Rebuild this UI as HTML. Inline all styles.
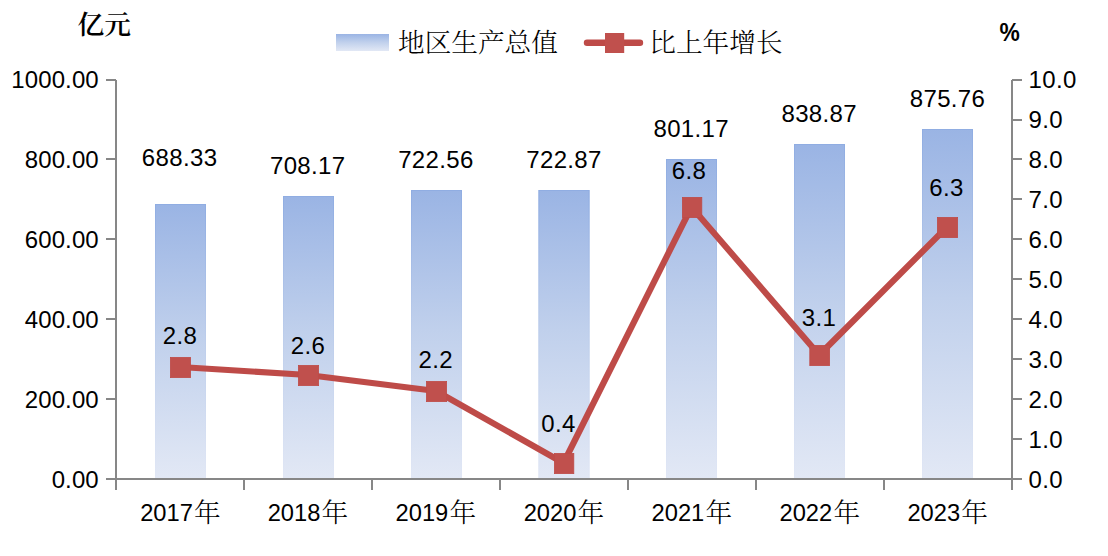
<!DOCTYPE html>
<html lang="zh-CN"><head><meta charset="utf-8"><title>地区生产总值</title>
<style>
html,body{margin:0;padding:0;background:#fff;}
body{width:1108px;height:556px;overflow:hidden;}
svg{display:block;}
.n{font-family:"Liberation Sans","Noto Sans CJK SC",sans-serif;font-size:24.0px;fill:#000;letter-spacing:0.35px;}
.c{font-family:"Liberation Serif","Noto Serif CJK SC",serif;font-size:26.67px;fill:#000;font-weight:300;letter-spacing:0;}
</style></head><body>
<svg width="1108" height="556" viewBox="0 0 1108 556">
<defs>
<linearGradient id="g" x1="0" y1="0" x2="0" y2="1"><stop offset="0" stop-color="#9ab4e4"/><stop offset="0.485" stop-color="#c0d0ec"/><stop offset="1" stop-color="#e2e8f5"/></linearGradient>
<linearGradient id="g2" x1="0" y1="0" x2="0" y2="1"><stop offset="0" stop-color="#90ade2"/><stop offset="0.485" stop-color="#bccdeb"/><stop offset="1" stop-color="#e1e7f5"/></linearGradient>
</defs>
<rect width="1108" height="556" fill="#fff"/>

<rect x="155.0" y="204" width="51" height="274" fill="url(#g)"/>
<rect x="155.5" y="204.5" width="50" height="274" fill="none" stroke="url(#g2)"/>
<rect x="283.0" y="196" width="51" height="282" fill="url(#g)"/>
<rect x="283.5" y="196.5" width="50" height="282" fill="none" stroke="url(#g2)"/>
<rect x="411.0" y="190" width="51" height="288" fill="url(#g)"/>
<rect x="411.5" y="190.5" width="50" height="288" fill="none" stroke="url(#g2)"/>
<rect x="538.5" y="190" width="51" height="288" fill="url(#g)"/>
<rect x="539.0" y="190.5" width="50" height="288" fill="none" stroke="url(#g2)"/>
<rect x="666.0" y="159" width="51" height="319" fill="url(#g)"/>
<rect x="666.5" y="159.5" width="50" height="319" fill="none" stroke="url(#g2)"/>
<rect x="794.0" y="144" width="51" height="334" fill="url(#g)"/>
<rect x="794.5" y="144.5" width="50" height="334" fill="none" stroke="url(#g2)"/>
<rect x="922.0" y="129" width="51" height="349" fill="url(#g)"/>
<rect x="922.5" y="129.5" width="50" height="349" fill="none" stroke="url(#g2)"/>
<rect x="115" y="80" width="2" height="410" fill="#878787"/>
<rect x="1011" y="80" width="2" height="410" fill="#878787"/>
<rect x="115" y="478" width="898" height="2" fill="#878787"/>
<rect x="106" y="79" width="10" height="2" fill="#878787"/>
<rect x="106" y="158" width="10" height="2" fill="#878787"/>
<rect x="106" y="238" width="10" height="2" fill="#878787"/>
<rect x="106" y="318" width="10" height="2" fill="#878787"/>
<rect x="106" y="398" width="10" height="2" fill="#878787"/>
<rect x="106" y="478" width="10" height="2" fill="#878787"/>
<rect x="1012" y="79" width="10" height="2" fill="#878787"/>
<rect x="1012" y="119" width="10" height="2" fill="#878787"/>
<rect x="1012" y="158" width="10" height="2" fill="#878787"/>
<rect x="1012" y="198" width="10" height="2" fill="#878787"/>
<rect x="1012" y="238" width="10" height="2" fill="#878787"/>
<rect x="1012" y="278" width="10" height="2" fill="#878787"/>
<rect x="1012" y="318" width="10" height="2" fill="#878787"/>
<rect x="1012" y="358" width="10" height="2" fill="#878787"/>
<rect x="1012" y="398" width="10" height="2" fill="#878787"/>
<rect x="1012" y="438" width="10" height="2" fill="#878787"/>
<rect x="1012" y="478" width="10" height="2" fill="#878787"/>
<rect x="243" y="479" width="2" height="11" fill="#878787"/>
<rect x="371" y="479" width="2" height="11" fill="#878787"/>
<rect x="499" y="479" width="2" height="11" fill="#878787"/>
<rect x="627" y="479" width="2" height="11" fill="#878787"/>
<rect x="755" y="479" width="2" height="11" fill="#878787"/>
<rect x="883" y="479" width="2" height="11" fill="#878787"/>
<text class="n" x="98.8" y="88" text-anchor="end" style="letter-spacing:0.1px">1000.00</text>
<text class="n" x="98.8" y="168" text-anchor="end" style="letter-spacing:0.1px">800.00</text>
<text class="n" x="98.8" y="248" text-anchor="end" style="letter-spacing:0.1px">600.00</text>
<text class="n" x="98.8" y="328" text-anchor="end" style="letter-spacing:0.1px">400.00</text>
<text class="n" x="98.8" y="408" text-anchor="end" style="letter-spacing:0.1px">200.00</text>
<text class="n" x="98.8" y="488" text-anchor="end" style="letter-spacing:0.1px">0.00</text>
<text class="n" x="1028.5" y="88">10.0</text>
<text class="n" x="1028.5" y="128">9.0</text>
<text class="n" x="1028.5" y="168">8.0</text>
<text class="n" x="1028.5" y="208">7.0</text>
<text class="n" x="1028.5" y="248">6.0</text>
<text class="n" x="1028.5" y="288">5.0</text>
<text class="n" x="1028.5" y="328">4.0</text>
<text class="n" x="1028.5" y="368">3.0</text>
<text class="n" x="1028.5" y="408">2.0</text>
<text class="n" x="1028.5" y="448">1.0</text>
<text class="n" x="1028.5" y="488">0.0</text>
<text class="n" x="179.6" y="166.0" text-anchor="middle">688.33</text>
<text class="n" x="307.7" y="174.0" text-anchor="middle">708.17</text>
<text class="n" x="435.9" y="168.0" text-anchor="middle">722.56</text>
<text class="n" x="564.0" y="168.0" text-anchor="middle">722.87</text>
<text class="n" x="691.2" y="137.0" text-anchor="middle">801.17</text>
<text class="n" x="819.2" y="121.7" text-anchor="middle">838.87</text>
<text class="n" x="947.5" y="107.0" text-anchor="middle">875.76</text>
<polyline points="180.0,367.0 308.0,375.0 436.0,391.0 563.5,463.0 691.5,207.0 819.2,355.0 947.0,227.0" fill="none" stroke="#be4b48" stroke-width="6.2" stroke-linejoin="round" stroke-linecap="round"/>
<rect x="170.4" y="357.4" width="20.2" height="20.2" fill="#c0504d" stroke="#be4b48" stroke-width="0.8"/>
<rect x="298.4" y="365.4" width="20.2" height="20.2" fill="#c0504d" stroke="#be4b48" stroke-width="0.8"/>
<rect x="426.4" y="381.4" width="20.2" height="20.2" fill="#c0504d" stroke="#be4b48" stroke-width="0.8"/>
<rect x="554.4" y="453.4" width="19.4" height="20.2" fill="#c0504d" stroke="#be4b48" stroke-width="0.8"/>
<rect x="682.4" y="197.4" width="19.4" height="20.2" fill="#c0504d" stroke="#be4b48" stroke-width="0.8"/>
<rect x="809.8" y="345.4" width="19.8" height="20.2" fill="#c0504d" stroke="#be4b48" stroke-width="0.8"/>
<rect x="937.4" y="217.4" width="20.2" height="20.2" fill="#c0504d" stroke="#be4b48" stroke-width="0.8"/>
<text class="n" x="180.0" y="344.0" text-anchor="middle">2.8</text>
<text class="n" x="307.9" y="354.0" text-anchor="middle">2.6</text>
<text class="n" x="435.7" y="367.8" text-anchor="middle">2.2</text>
<text class="n" x="558.4" y="431.6" text-anchor="middle">0.4</text>
<text class="n" x="689.0" y="179.1" text-anchor="middle">6.8</text>
<text class="n" x="819.0" y="325.9" text-anchor="middle">3.1</text>
<text class="n" x="946.5" y="196.0" text-anchor="middle">6.3</text>
<text class="n" x="140.2" y="520.7" style="font-size:23.7px;letter-spacing:0">2017</text>
<text class="c" x="194.1" y="522.4">年</text>
<text class="n" x="267.7" y="520.7" style="font-size:23.7px;letter-spacing:0">2018</text>
<text class="c" x="321.6" y="522.4">年</text>
<text class="n" x="395.6" y="520.7" style="font-size:23.7px;letter-spacing:0">2019</text>
<text class="c" x="449.5" y="522.4">年</text>
<text class="n" x="523.7" y="520.7" style="font-size:23.7px;letter-spacing:0">2020</text>
<text class="c" x="577.6" y="522.4">年</text>
<text class="n" x="651.6" y="520.7" style="font-size:23.7px;letter-spacing:0">2021</text>
<text class="c" x="705.5" y="522.4">年</text>
<text class="n" x="779.5" y="520.7" style="font-size:23.7px;letter-spacing:0">2022</text>
<text class="c" x="833.4" y="522.4">年</text>
<text class="n" x="907.4" y="520.7" style="font-size:23.7px;letter-spacing:0">2023</text>
<text class="c" x="961.3" y="522.4">年</text>
<rect x="336" y="34" width="53" height="17" fill="url(#g)"/>
<text class="c" x="398" y="52">地区生产总值</text>
<line x1="587" y1="42.7" x2="640" y2="42.7" stroke="#be4b48" stroke-width="6.4" stroke-linecap="round"/>
<rect x="605" y="33" width="19.2" height="20" fill="#c0504d"/>
<text class="c" x="649.3" y="52">比上年增长</text>
<text class="c" x="77.5" y="34" style="font-weight:600">亿元</text>
<text class="n" x="999.6" y="41.2" style="font-weight:bold;font-size:25.6px" textLength="20.6" lengthAdjust="spacingAndGlyphs">%</text>
</svg></body></html>
